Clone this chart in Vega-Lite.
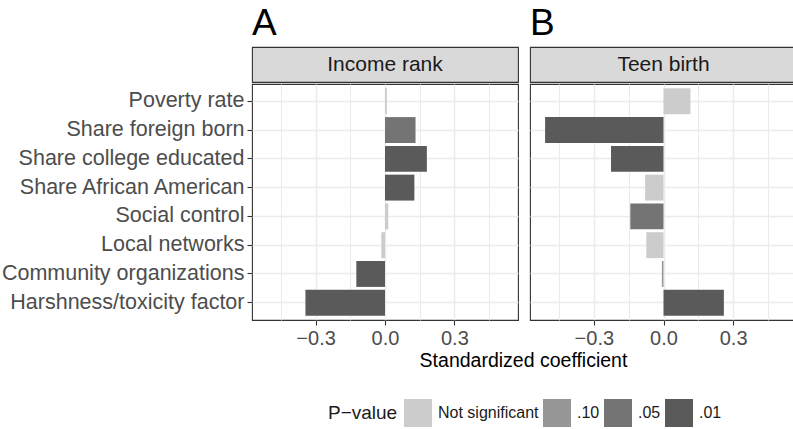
{
  "$schema": "https://vega.github.io/schema/vega-lite/v6.json",
  "padding": {"left": 0, "top": 4, "right": 0, "bottom": 0},
  "background": "white",
  "config": {
    "font": "Liberation Sans",
    "view": {"stroke": "#333333", "strokeWidth": 1.1},
    "legend": {
      "orient": "none",
      "legendX": 76,
      "legendY": 352,
      "direction": "horizontal",
      "titleOrient": "left",
      "titleFontSize": 19,
      "titleFontWeight": "normal",
      "titleColor": "#1a1a1a",
      "titlePadding": 6,
      "labelFontSize": 16,
      "labelColor": "#1a1a1a",
      "labelOffset": 6,
      "columnPadding": 4,
      "symbolType": "square",
      "symbolSize": 784,
      "symbolStrokeWidth": 0,
      "symbolOpacity": 1
    }
  },
  "datasets": {
    "bars": [
      {"outcome": "Income rank", "variable": "Poverty rate", "coef": 0.008, "p": "Not significant"},
      {"outcome": "Income rank", "variable": "Share foreign born", "coef": 0.132, "p": ".05"},
      {"outcome": "Income rank", "variable": "Share college educated", "coef": 0.181, "p": ".01"},
      {"outcome": "Income rank", "variable": "Share African American", "coef": 0.127, "p": ".01"},
      {"outcome": "Income rank", "variable": "Social control", "coef": 0.014, "p": "Not significant"},
      {"outcome": "Income rank", "variable": "Local networks", "coef": -0.016, "p": "Not significant"},
      {"outcome": "Income rank", "variable": "Community organizations", "coef": -0.124, "p": ".01"},
      {"outcome": "Income rank", "variable": "Harshness/toxicity factor", "coef": -0.344, "p": ".01"},
      {"outcome": "Teen birth", "variable": "Poverty rate", "coef": 0.116, "p": "Not significant"},
      {"outcome": "Teen birth", "variable": "Share foreign born", "coef": -0.51, "p": ".01"},
      {"outcome": "Teen birth", "variable": "Share college educated", "coef": -0.226, "p": ".01"},
      {"outcome": "Teen birth", "variable": "Share African American", "coef": -0.079, "p": "Not significant"},
      {"outcome": "Teen birth", "variable": "Social control", "coef": -0.143, "p": ".05"},
      {"outcome": "Teen birth", "variable": "Local networks", "coef": -0.074, "p": "Not significant"},
      {"outcome": "Teen birth", "variable": "Community organizations", "coef": -0.007, "p": ".10"},
      {"outcome": "Teen birth", "variable": "Harshness/toxicity factor", "coef": 0.26, "p": ".01"}
    ]
  },
  "resolve": {"scale": {"color": "shared"}, "legend": {"color": "shared"}},
  "spacing": 2,
  "vconcat": [
    {
      "spacing": 10,
      "resolve": {"scale": {"color": "shared"}, "legend": {"color": "shared"}},
      "hconcat": [
        {
          "spacing": 0,
          "vconcat": [
            {
              "title": {"text": "A", "anchor": "start", "frame": "group", "fontSize": 37, "fontWeight": "normal", "color": "#000000", "offset": 4},
              "width": 266,
              "height": 35,
              "view": {"fill": "#d9d9d9", "stroke": "#333333", "strokeWidth": 1.1},
              "data": {"values": [{"label": "Income rank"}]},
              "mark": {"type": "text", "fontSize": 21, "color": "#1a1a1a", "baseline": "middle", "align": "center"},
              "encoding": {"text": {"field": "label", "type": "nominal"}}
            },
            {
              "width": 266,
              "height": 236,
              "data": {"name": "bars"},
              "transform": [{"filter": "datum.outcome === 'Income rank'"}],
              "mark": {"type": "bar"},
              "encoding": {
                "y": {
                  "field": "variable", "type": "nominal",
                  "sort": ["Poverty rate", "Share foreign born", "Share college educated", "Share African American", "Social control", "Local networks", "Community organizations", "Harshness/toxicity factor"],
                  "scale": {"paddingInner": 0.1, "paddingOuter": 0.15},
                  "axis": {"title": null, "domain": false, "labelFontSize": 21.5, "labelColor": "#4d4d4d", "labelLimit": 400, "labelPadding": 3, "tickColor": "#333333", "tickSize": 5, "tickWidth": 1.1, "grid": true, "gridColor": "#ebebeb", "gridWidth": 1.4}
                },
                "x": {
                  "field": "coef", "type": "quantitative",
                  "scale": {"domain": [-0.575, 0.575], "nice": false, "zero": false},
                  "axis": {
                    "values": [-0.45, -0.3, -0.15, 0, 0.15, 0.3, 0.45],
                    "labelExpr": "abs(datum.value + 0.3) < 1e-6 ? '−0.3' : abs(datum.value) < 1e-6 ? '0.0' : abs(datum.value - 0.3) < 1e-6 ? '0.3' : ''",
                    "tickOpacity": {"condition": {"test": "round(datum.value * 100) % 30 !== 0", "value": 0}, "value": 1},
                    "gridWidth": {"condition": {"test": "round(datum.value * 100) % 30 !== 0", "value": 1}, "value": 1.4},
                    "gridColor": "#ebebeb",
                    "domain": false,
                    "labelFontSize": 20, "labelColor": "#4d4d4d", "labelPadding": 3,
                    "tickColor": "#333333", "tickSize": 5, "tickWidth": 1.1,
                    "title": null
                  }
                },
                "color": {
                  "field": "p", "type": "nominal",
                  "scale": {"domain": ["Not significant", ".10", ".05", ".01"], "range": ["#cccccc", "#969696", "#747474", "#5a5a5a"]},
                  "legend": {"title": "P−value"}
                }
              }
            }
          ]
        },
        {
          "spacing": 0,
          "vconcat": [
            {
              "title": {"text": "B", "anchor": "start", "frame": "group", "fontSize": 37, "fontWeight": "normal", "color": "#000000", "offset": 4},
              "width": 267,
              "height": 35,
              "view": {"fill": "#d9d9d9", "stroke": "#333333", "strokeWidth": 1.1},
              "data": {"values": [{"label": "Teen birth"}]},
              "mark": {"type": "text", "fontSize": 21, "color": "#1a1a1a", "baseline": "middle", "align": "center"},
              "encoding": {"text": {"field": "label", "type": "nominal"}}
            },
            {
              "width": 267,
              "height": 236,
              "data": {"name": "bars"},
              "transform": [{"filter": "datum.outcome === 'Teen birth'"}],
              "mark": {"type": "bar"},
              "encoding": {
                "y": {
                  "field": "variable", "type": "nominal",
                  "sort": ["Poverty rate", "Share foreign born", "Share college educated", "Share African American", "Social control", "Local networks", "Community organizations", "Harshness/toxicity factor"],
                  "scale": {"paddingInner": 0.1, "paddingOuter": 0.15},
                  "axis": {"title": null, "domain": false, "labels": false, "ticks": false, "grid": true, "gridColor": "#ebebeb", "gridWidth": 1.4}
                },
                "x": {
                  "field": "coef", "type": "quantitative",
                  "scale": {"domain": [-0.575, 0.575], "nice": false, "zero": false},
                  "axis": {
                    "values": [-0.45, -0.3, -0.15, 0, 0.15, 0.3, 0.45],
                    "labelExpr": "abs(datum.value + 0.3) < 1e-6 ? '−0.3' : abs(datum.value) < 1e-6 ? '0.0' : abs(datum.value - 0.3) < 1e-6 ? '0.3' : ''",
                    "tickOpacity": {"condition": {"test": "round(datum.value * 100) % 30 !== 0", "value": 0}, "value": 1},
                    "gridWidth": {"condition": {"test": "round(datum.value * 100) % 30 !== 0", "value": 1}, "value": 1.4},
                    "gridColor": "#ebebeb",
                    "domain": false,
                    "labelFontSize": 20, "labelColor": "#4d4d4d", "labelPadding": 3,
                    "tickColor": "#333333", "tickSize": 5, "tickWidth": 1.1,
                    "title": null
                  }
                },
                "color": {
                  "field": "p", "type": "nominal",
                  "scale": {"domain": ["Not significant", ".10", ".05", ".01"], "range": ["#cccccc", "#969696", "#747474", "#5a5a5a"]},
                  "legend": {"title": "P−value"}
                }
              }
            }
          ]
        }
      ]
    },
    {
      "width": 543,
      "height": 20,
      "view": {"stroke": null},
      "data": {"values": [{"label": "Standardized coefficient"}]},
      "mark": {"type": "text", "fontSize": 19.5, "color": "#000000", "baseline": "middle", "align": "center"},
      "encoding": {"text": {"field": "label", "type": "nominal"}}
    }
  ]
}
